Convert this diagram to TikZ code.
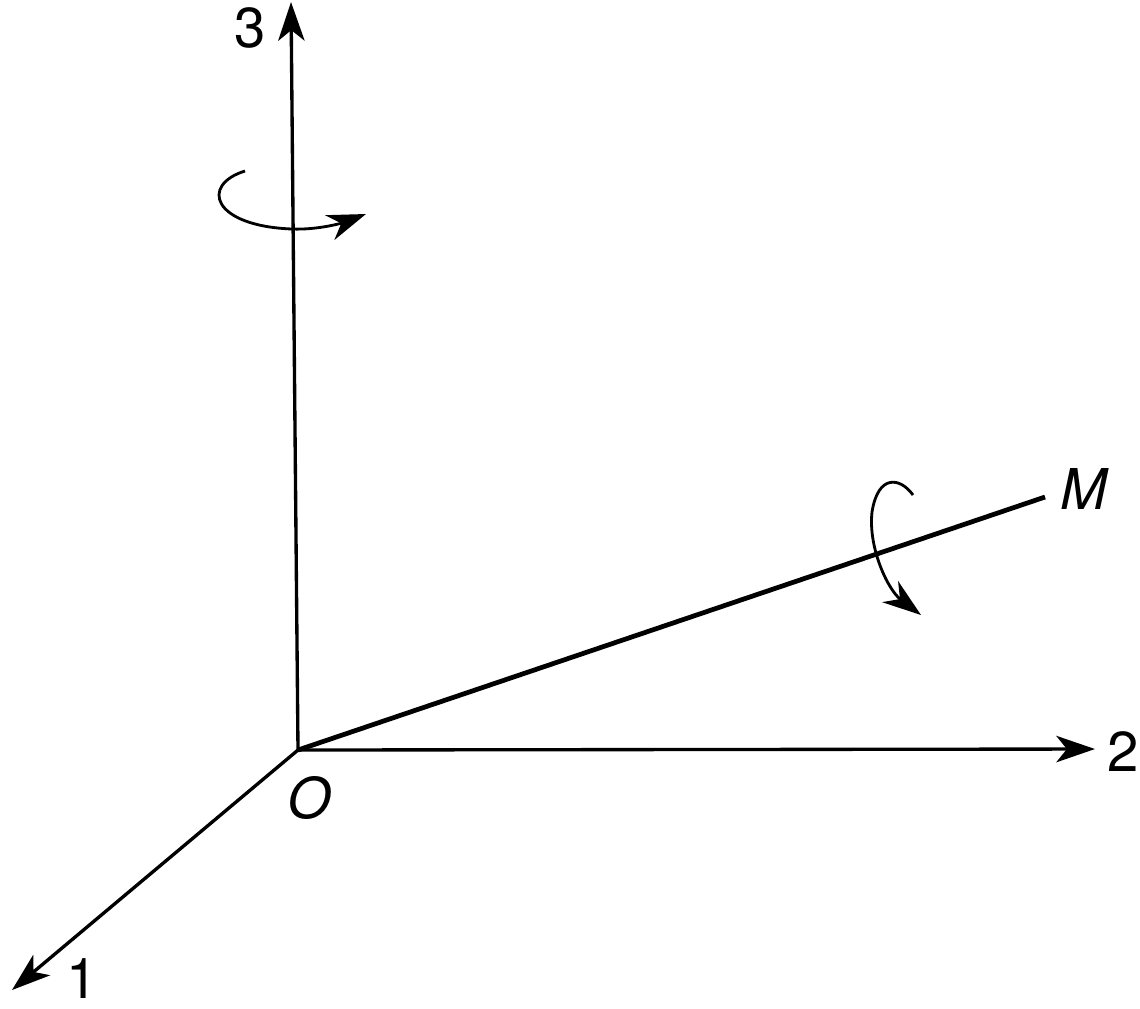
\documentclass[tikz,border=0pt]{standalone}
\usepackage{fontspec}
\setmainfont{TeX Gyre Heros}
\usetikzlibrary{arrows.meta}
\begin{document}
\begin{tikzpicture}[x=0.01cm,y=-0.01cm,
  axis/.style={line width=0.95pt,-{Stealth[length=11pt,width=7.5pt,inset=3pt]}},
  rot/.style={line width=0.8pt,-{Stealth[length=11pt,width=7.5pt,inset=3.5pt]}},
  lab/.style={font=\fontsize{16}{16}\selectfont,inner sep=0pt}]
\useasboundingbox (0,0) rectangle (1140,1008);
\coordinate (O) at (298,750);
\coordinate (e3) at (291,2);
\coordinate (e2) at (1095,749);
\coordinate (e1) at (12,990);
\coordinate (M) at (1045,497);
\draw[axis] (O) -- (e3);
\draw[axis] (O) -- (e2);
\draw[axis] (O) -- (e1);
\draw[line width=1.35pt] (O) -- (M);
\node[lab] (l3) at (250,28) {3};
\node[lab] (l2) at (1123,752) {2};
\node[lab] (l1) at (82,979) {1};
\node[lab] (lM) at (1084,489) {\itshape M};
\node[lab] (lO) at (309,798) {\itshape O};
\coordinate (r3s) at (245,171);
\coordinate (r3e) at (366,214);
\draw[rot] (r3s) .. controls (200,185) and (212,226) .. (292,229)
  .. controls (318,230) and (342,223) .. (r3e);
\coordinate (rMs) at (913,495);
\coordinate (rMe) at (921,615);
\draw[rot] (rMs) .. controls (900,477) and (878,474) .. (872,512)
  .. controls (868,548) and (888,590) .. (rMe);
\end{tikzpicture}
\end{document}
